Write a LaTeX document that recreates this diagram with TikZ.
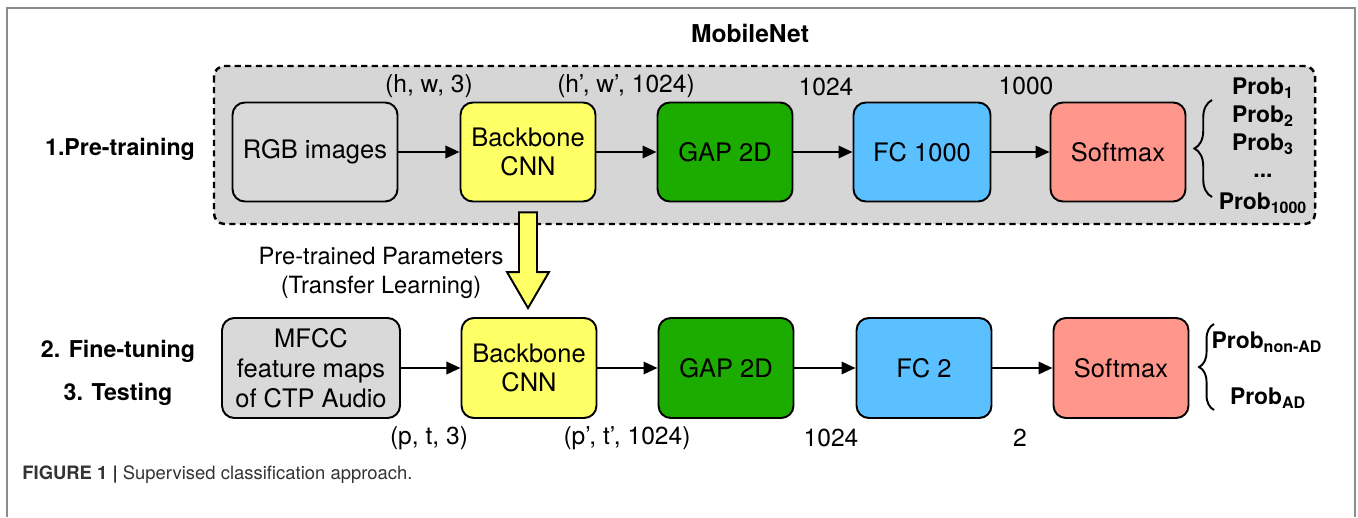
\documentclass[tikz,border=0pt]{standalone}
\usepackage{fontspec}
\setmainfont{TeX Gyre Heros}
\usetikzlibrary{arrows.meta, positioning, calc, decorations.pathreplacing}

\definecolor{boxgray}{RGB}{217,217,217}
\definecolor{areagray}{RGB}{214,214,214}
\definecolor{cnnyellow}{RGB}{255,255,102}
\definecolor{gapgreen}{RGB}{28,172,0}
\definecolor{fcblue}{RGB}{90,192,255}
\definecolor{softred}{RGB}{255,150,140}
\definecolor{framegray}{RGB}{140,140,140}

\begin{document}
\begin{tikzpicture}[
    x=0.02cm, y=-0.02cm,
    >={Triangle[length=8pt, width=7pt]},
    font=\fontsize{13}{17}\selectfont,
    block/.style={rectangle, draw, line width=1.1pt, rounded corners=7pt, minimum width=2.7cm, minimum height=1.98cm, align=center, inner sep=2pt, font=\fontsize{14.5}{17}\selectfont},
    dims/.style={inner sep=0pt, font=\fontsize{14}{17}\selectfont},
    stage/.style={inner sep=0pt, font=\fontsize{13.2}{17}\selectfont\bfseries},
    prob/.style={inner sep=0pt, font=\fontsize{13}{17}\selectfont\bfseries},
    connection/.style={->, line width=1.4pt},
    brace/.style={decorate, decoration={brace, amplitude=10pt}, line width=1.1pt},
    transfer/.style={draw, fill=cnnyellow, line width=1.1pt, line join=miter},
]

\useasboundingbox (0,0) rectangle (1358,517);

% Outer frame
\draw[framegray, line width=0.9pt] (7,517) -- (7,8) -- (1355,8) -- (1355,517);

\node (MobileNet) at (750, 33) [stage, font=\fontsize{14}{17}\selectfont\bfseries] {MobileNet};
\draw[fill=areagray, dashed, dash pattern=on 3.5pt off 2.5pt, line width=1.4pt, rounded corners=6pt] (214,66) rectangle (1315,224);

% Stages
\node (PreTraining) at (120, 149) [stage] {1.Pre-training};
\node (FineTuning) at (118, 351) [stage] {2. Fine-tuning};
\node (Testing) at (118, 394) [stage] {3. Testing};

% Pre-training row
\node (RGBImages) at (315, 152) [block, fill=boxgray, minimum width=3.3cm] {RGB images};
\node (BackboneTop) at (528, 152) [block, fill=cnnyellow] {Backbone\\CNN};
\node (GAPTop) at (725, 152) [block, fill=gapgreen] {GAP 2D};
\node (FCTop) at (922, 152) [block, fill=fcblue, minimum width=2.74cm] {FC 1000};
\node (SoftmaxTop) at (1118, 152) [block, fill=softred] {Softmax};

\draw[connection] (RGBImages.east) -- (BackboneTop.west);
\draw[connection] (BackboneTop.east) -- (GAPTop.west);
\draw[connection] (GAPTop.east) -- (FCTop.west);
\draw[connection] (FCTop.east) -- (SoftmaxTop.west);

\node (DimRGB) at (429, 86) [dims] {(h, w, 3)};
\node (DimBackboneTop) at (626, 86) [dims] {(h’, w’, 1024)};
\node (DimGAPTop) at (826, 87) [dims] {1024};
\node (DimFCTop) at (1026, 86) [dims] {1000};

% ImageNet outputs
\draw[brace] (1212,197) -- (1212,100);
\node (ProbOne) at (1263, 88) [prob] {Prob\textsubscript{1}};
\node (ProbTwo) at (1263, 116) [prob] {Prob\textsubscript{2}};
\node (ProbThree) at (1263, 144) [prob] {Prob\textsubscript{3}};
\node (ProbDots) at (1263, 176) [prob] {...};
\node (ProbLast) at (1263, 203) [prob] {Prob\textsubscript{1000}};

% Fine-tuning / testing row
\node (MFCCMaps) at (311, 368) [block, fill=boxgray, minimum width=3.56cm, minimum height=2cm] {MFCC\\feature maps\\of CTP Audio};
\node (BackboneBottom) at (529, 368) [block, fill=cnnyellow, minimum height=2cm] {Backbone\\CNN};
\node (GAPBottom) at (726, 368) [block, fill=gapgreen, minimum height=2cm] {GAP 2D};
\node (FCBottom) at (924, 368) [block, fill=fcblue, minimum height=2cm] {FC 2};
\node (SoftmaxBottom) at (1121, 368) [block, fill=softred, minimum height=2cm] {Softmax};

\draw[connection] (MFCCMaps.east) -- (BackboneBottom.west);
\draw[connection] (BackboneBottom.east) -- (GAPBottom.west);
\draw[connection] (GAPBottom.east) -- (FCBottom.west);
\draw[connection] (FCBottom.east) -- (SoftmaxBottom.west);

\node (DimMFCC) at (429, 438) [dims] {(p, t, 3)};
\node (DimBackboneBottom) at (627, 438) [dims] {(p’, t’, 1024)};
\node (DimGAPBottom) at (831, 438) [dims] {1024};
\node (DimFCBottom) at (1020, 438) [dims] {2};

% AD outputs
\draw[brace, decoration={amplitude=8.5pt}] (1214,410) -- (1214,324);
\node (ProbNonAD) at (1267, 342) [prob] {Prob\textsubscript{non-AD}};
\node (ProbAD) at (1268, 398) [prob] {Prob\textsubscript{AD}};

% Transfer learning
\coordinate (TransferStart) at ($(BackboneTop.south)+(0,10)$);
\coordinate (TransferTip) at (TransferStart |- BackboneBottom.north);
\draw[transfer] ($(TransferStart)+(-9,0)$) -- ($(TransferTip)+(-9,-45)$) -- ($(TransferTip)+(-21,-45)$) -- ($(TransferTip)+(0,-9)$) -- ($(TransferTip)+(21,-45)$) -- ($(TransferTip)+(9,-45)$) -- ($(TransferStart)+(9,0)$) -- cycle;
\node (TransferText) at (381, 273) [align=center, inner sep=0pt, font=\fontsize{13.5}{17}\selectfont] {Pre-trained Parameters\\(Transfer Learning)};

% Caption
\node (Caption) at (22, 475) [anchor=west, inner sep=0pt, font=\fontsize{10.5}{12}\selectfont, text=black!80] {\textbf{FIGURE 1 |} Supervised classification approach.};

\end{tikzpicture}
\end{document}
